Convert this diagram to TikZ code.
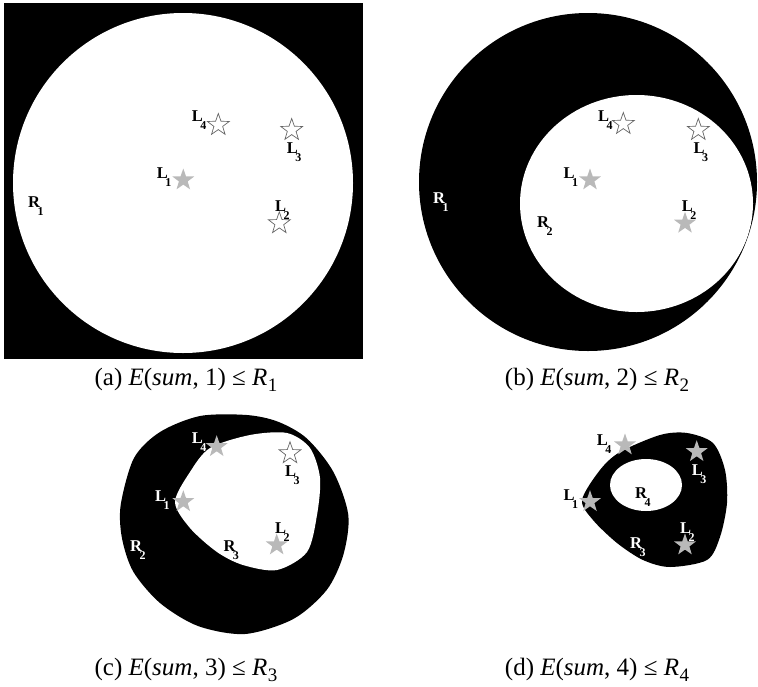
\documentclass[tikz,border=0pt]{standalone}
\usepackage{fontspec}
\setmainfont{Liberation Serif}
\usetikzlibrary{shapes.geometric}
\newcommand{\lsub}[2]{#1\kern-2.5pt\raisebox{-8pt}{\fontsize{12}{12}\selectfont #2}}
\newcommand{\capsub}[1]{\kern0.5pt\raisebox{-6pt}{\fontsize{19}{19}\selectfont #1}}
\begin{document}
\begin{tikzpicture}[x=1pt,y=-1pt,
  gstar/.style={star,star points=5,star point ratio=2.5,minimum size=23pt,inner sep=0pt,fill=gray!55,draw=none},
  hstar/.style={star,star points=5,star point ratio=2.5,minimum size=23pt,inner sep=0pt,fill=white,draw=black!60,line width=0.7pt},
  lab/.style={anchor=base west,inner sep=0pt,font=\fontsize{16.5}{16.5}\selectfont\bfseries},
  wlab/.style={lab,text=white},
  captxt/.style={anchor=base,inner sep=0pt,font=\fontsize{25}{25}\selectfont},
  blk/.style={fill=black},
  wht/.style={fill=white}]
\useasboundingbox[fill=white] (0,0) rectangle (758,686);

% ---------- (a)
\fill[blk] (4,3) rectangle (363,359);
\fill[wht] (183,183) circle[radius=170];
\node[hstar] (a4) at (218.3,125) {};
\node[hstar] (a3) at (291.7,130) {};
\node[gstar] (a1) at (183.3,180) {};
\node[hstar] (a2) at (279.3,223.3) {};
\node[lab] (la4) at (191.7,121.7) {\lsub{L}{4}};
\node[lab] (la3) at (286.7,153.3) {\lsub{L}{3}};
\node[lab] (la1) at (156.7,178.3) {\lsub{L}{1}};
\node[lab] (la2) at (275,211.7) {\lsub{L}{2}};
\node[lab] (ra1) at (28,207) {\lsub{R}{1}};
\node[captxt] (capa) at (186,385) {(a) \textit{E}(\textit{sum}, 1) ≤ \textit{R}\capsub{1}};

% ---------- (b)
\fill[blk] (588,182) circle[radius=169];
\fill[wht] (636.5,203.5) ellipse[x radius=116.5,y radius=108.5];
\node[hstar] (b4) at (623.3,124) {};
\node[hstar] (b3) at (698.3,130) {};
\node[gstar] (b1) at (590,180) {};
\node[gstar] (b2) at (685,223.3) {};
\node[lab] (lb4) at (598,121.7) {\lsub{L}{4}};
\node[lab] (lb3) at (693.3,153) {\lsub{L}{3}};
\node[lab] (lb1) at (563.3,178) {\lsub{L}{1}};
\node[lab] (lb2) at (681.7,211.7) {\lsub{L}{2}};
\node[wlab] (rb1) at (433,203) {\lsub{R}{1}};
\node[lab] (rb2) at (537,227) {\lsub{R}{2}};
\node[captxt] (capb) at (597,385) {(b) \textit{E}(\textit{sum}, 2) ≤ \textit{R}\capsub{2}};

% ---------- (c)
\fill[blk] plot[smooth cycle] coordinates {(120.7,505) (134,458) (160,432) (200,416) (246.7,415) (278,421.7) (306.7,438.3) (333.3,471.7) (348.3,515) (343.3,555) (326.7,590) (293.3,619) (245,634) (198,626) (160,603) (133.3,571.7) (122,538.3)};
\fill[wht] plot[smooth cycle] coordinates {(175,502) (190,472) (210,448) (250,435) (287,433) (310,448) (320,478) (317,515) (307,552) (277,570) (243,565) (217,552) (190,528)};
\node[gstar] (c4) at (216.7,446.7) {};
\node[hstar] (c3) at (290,453.3) {};
\node[gstar] (c1) at (183.3,501.7) {};
\node[gstar] (c2) at (276.7,545) {};
\node[wlab] (lc4) at (191.7,443) {\lsub{L}{4}};
\node[lab] (lc3) at (285,476.7) {\lsub{L}{3}};
\node[wlab] (lc1) at (155,501.7) {\lsub{L}{1}};
\node[lab] (lc2) at (275,533.3) {\lsub{L}{2}};
\node[wlab] (rc2) at (130,551.7) {\lsub{R}{2}};
\node[lab] (rc3) at (223.3,551.7) {\lsub{R}{3}};
\node[captxt] (capc) at (186,675) {(c) \textit{E}(\textit{sum}, 3) ≤ \textit{R}\capsub{3}};

% ---------- (d)
\fill[blk] plot[smooth cycle] coordinates {(582,500) (600,470) (620,452) (660,435) (687,433) (713,443) (725,470) (727,503) (720,537) (707,560) (670,567) (643,560) (617,543) (593,520)};
\fill[wht] (646,485) ellipse[x radius=36,y radius=26];
\node[gstar] (d4) at (625,445) {};
\node[gstar] (d3) at (696.7,451.7) {};
\node[gstar] (d1) at (590,501.7) {};
\node[gstar] (d2) at (685,545) {};
\node[lab] (ld4) at (596.7,445) {\lsub{L}{4}};
\node[wlab] (ld3) at (691.7,475) {\lsub{L}{3}};
\node[lab] (ld1) at (563.3,500) {\lsub{L}{1}};
\node[wlab] (ld2) at (680,533.3) {\lsub{L}{2}};
\node[lab] (rd4) at (635,498.3) {\lsub{R}{4}};
\node[wlab] (rd3) at (630,548.3) {\lsub{R}{3}};
\node[captxt] (capd) at (597,675) {(d) \textit{E}(\textit{sum}, 4) ≤ \textit{R}\capsub{4}};
\end{tikzpicture}
\end{document}
